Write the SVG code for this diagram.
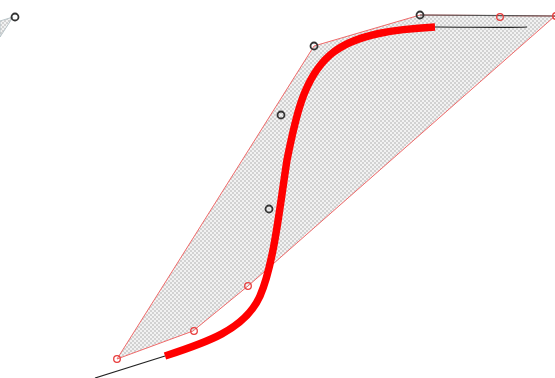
<svg xmlns="http://www.w3.org/2000/svg" width="555" height="378" viewBox="0 0 555 378">
<defs>
<pattern id="chk" width="4" height="4" patternUnits="userSpaceOnUse">
<rect width="4" height="4" fill="#f2f2f2"/>
<rect width="2" height="2" fill="#d2d2d2"/>
<rect x="2" y="2" width="2" height="2" fill="#d2d2d2"/>
</pattern>
</defs>
<style>
.hull{fill:url(#chk);stroke:#f06a6a;stroke-width:1;stroke-linejoin:round}
.hull2{fill:url(#chk);stroke:#b8c4c8;stroke-width:1}
.cb{fill:none;stroke:#333;stroke-width:1.8}
.cr{fill:none;stroke:#e83c3c;stroke-width:1.3}
.thin{fill:none;stroke:#222;stroke-width:1.2}
.thick{fill:none;stroke:#ff0000;stroke-width:7.5;stroke-linecap:butt}
</style>
<rect width="555" height="378" fill="#ffffff"/>
<g id="hull-left">
<polygon class="hull2" points="0,21 13,17 0,37"/>
</g>
<g id="hull-main">
<polygon class="hull" points="117,359 314,46 420,15 555,16 248,286 193,331"/>
<line x1="420" y1="15" x2="555" y2="16" stroke="#555" stroke-width="1.2"/>
</g>
<g id="connectors">
<path class="thin" d="M95,378 L165,356"/>
<path class="thick" d="M165,356 C205,343 245,330 260,296 C274,264 280,205 287,160 C296,115 304,78 330,55 C355,33 400,29 435,27"/>
<path class="thin" d="M435,27 C470,27 500,28 527,27"/>
</g>
<g id="points">
<g id="p0"><circle class="cb" cx="15" cy="17" r="3.5"/></g>
<g id="p1"><circle class="cr" cx="117" cy="359" r="3.3"/></g>
<g id="p2"><circle class="cr" cx="194" cy="331" r="3.3"/></g>
<g id="p3"><circle class="cr" cx="248" cy="286" r="3.3"/></g>
<g id="p4"><circle class="cb" cx="269" cy="209" r="3.5"/></g>
<g id="p5"><circle class="cb" cx="281" cy="115" r="3.5"/></g>
<g id="p6"><circle class="cb" cx="314" cy="46" r="3.5"/></g>
<g id="p7"><circle class="cb" cx="420" cy="15" r="3.5"/></g>
<g id="p8"><circle class="cr" cx="500" cy="17" r="3.3"/></g>
<g id="p9"><circle class="cr" cx="556" cy="16" r="3.3"/></g>
</g>
</svg>
